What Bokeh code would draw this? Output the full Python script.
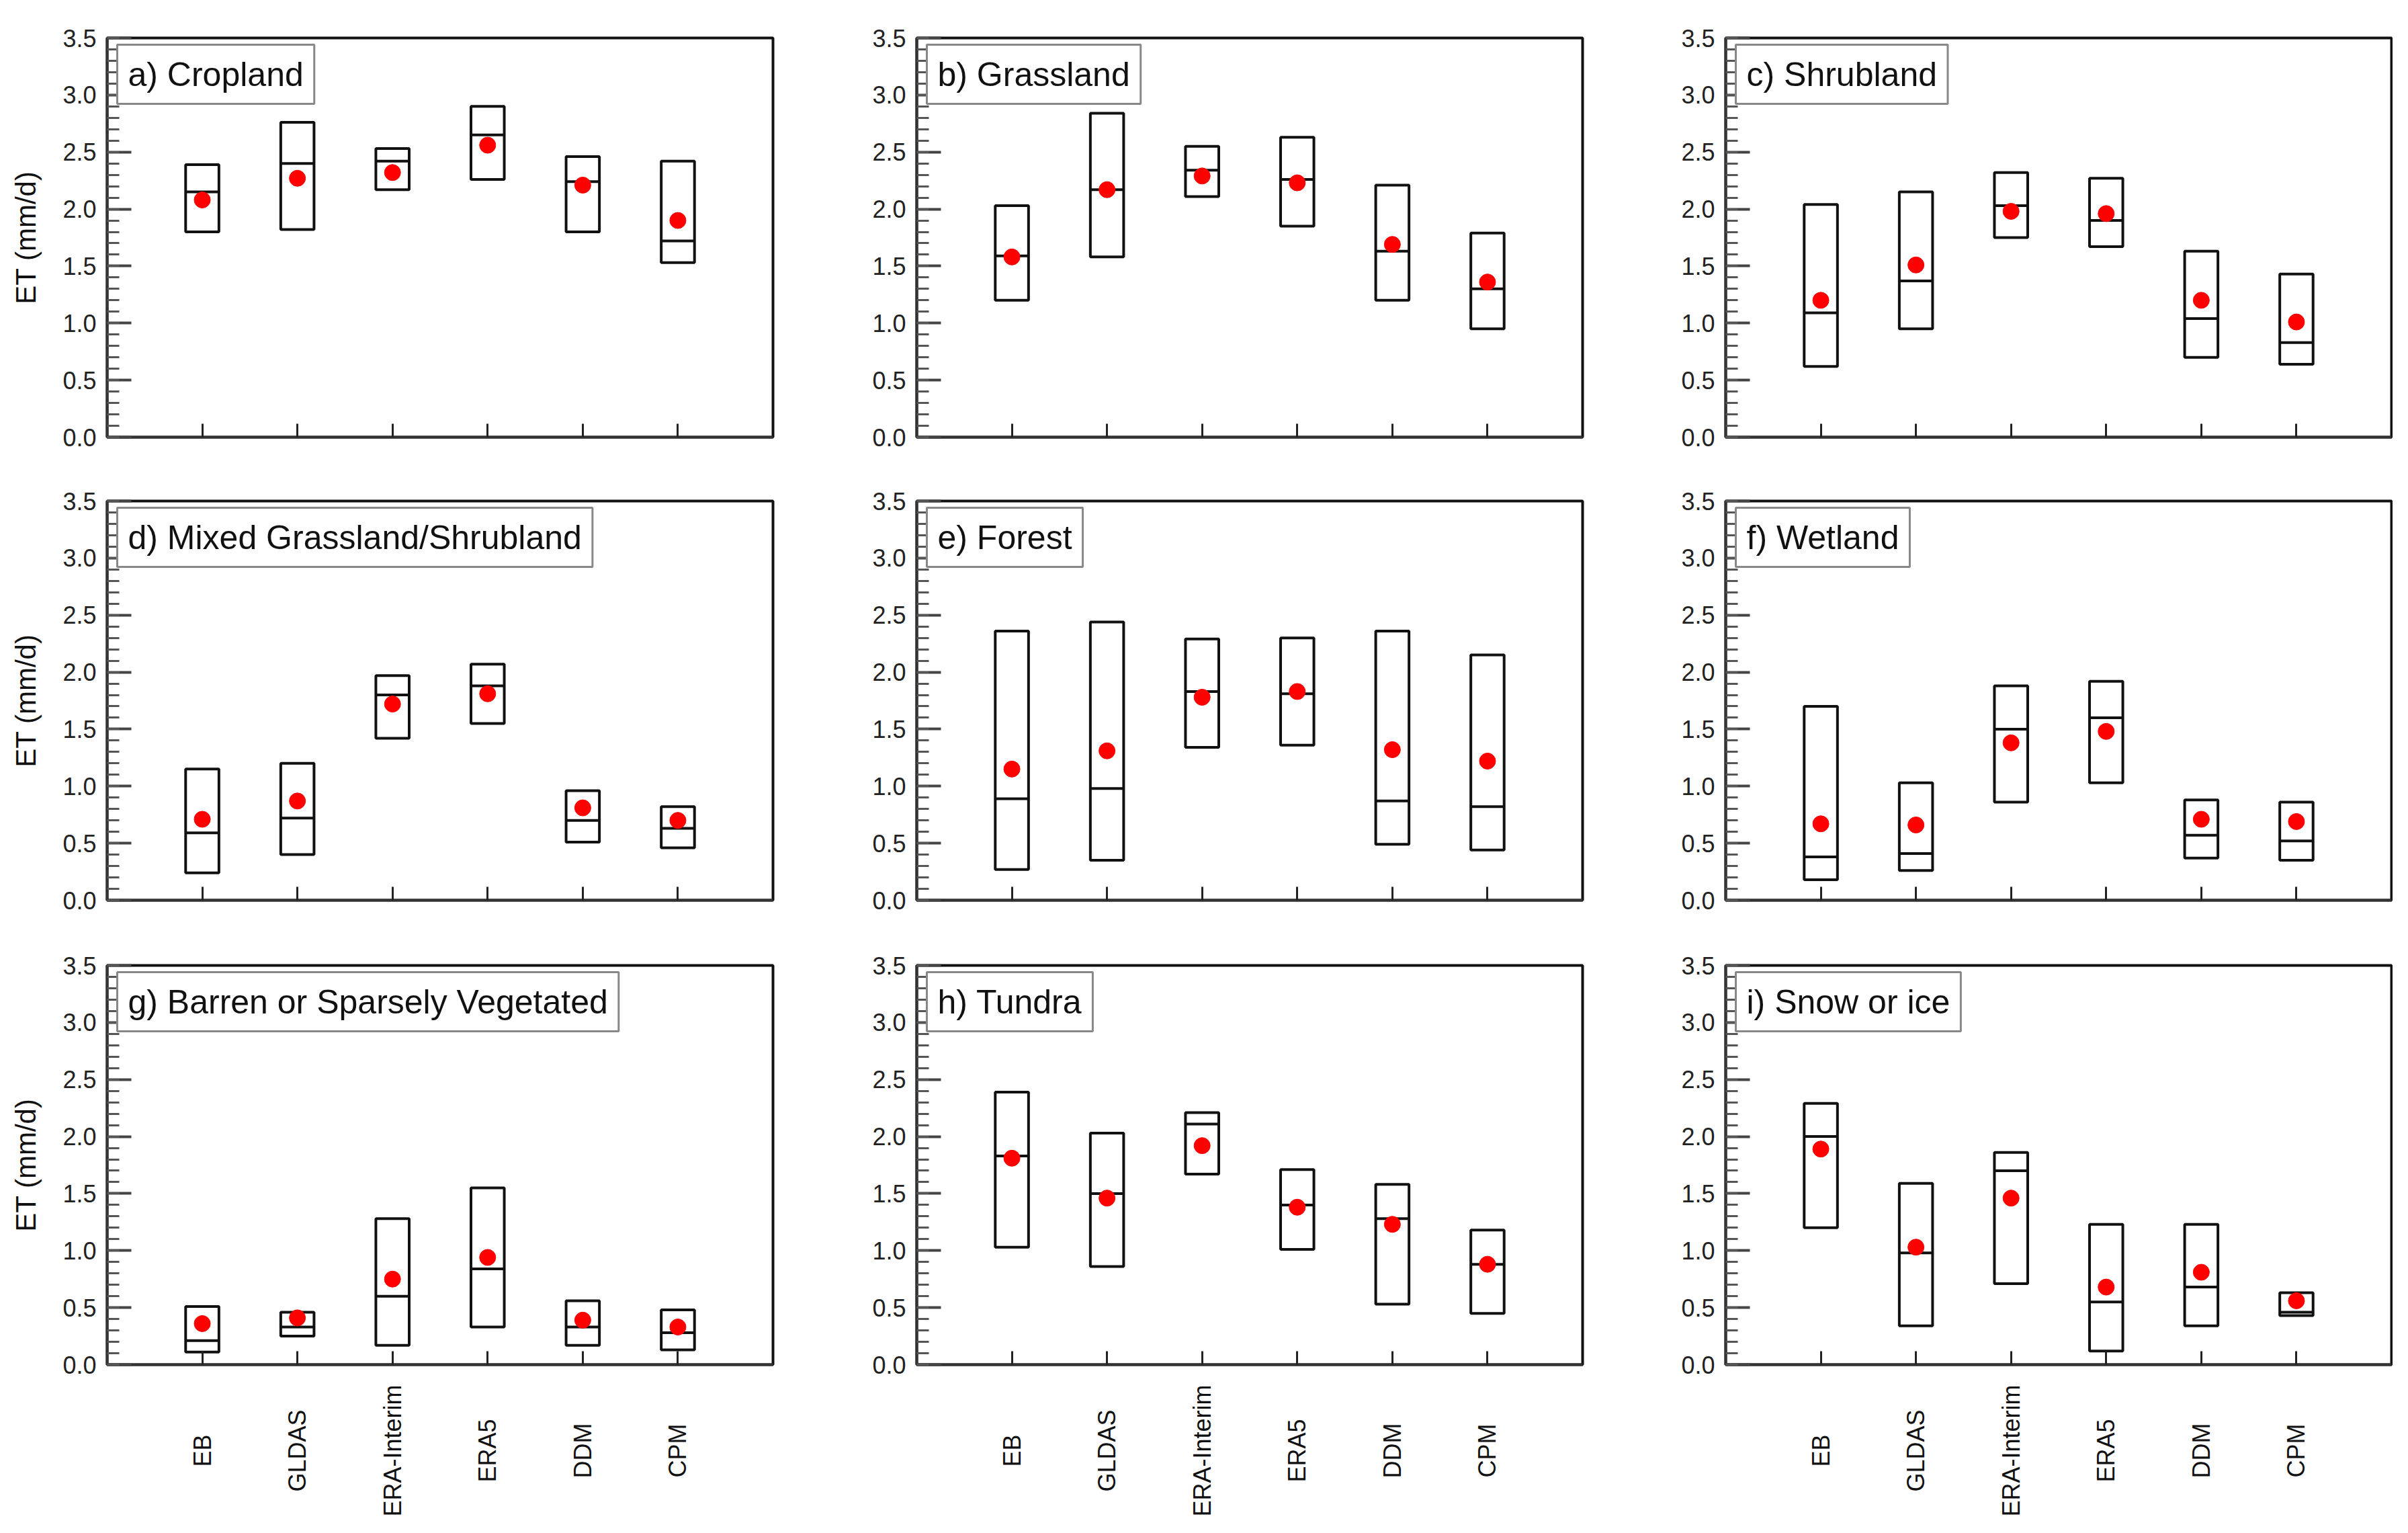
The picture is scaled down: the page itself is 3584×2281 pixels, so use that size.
import math
from bokeh.plotting import figure
from bokeh.models import (Range1d, FixedTicker, SingleIntervalTicker, NumeralTickFormatter,
                          Label, ColumnDataSource, CustomJSTickFormatter)
from bokeh.layouts import gridplot
from bokeh.core.properties import value
from bokeh.embed import file_html
from bokeh.resources import INLINE

categories = ["EB", "GLDAS", "ERA-Interim", "ERA5", "DDM", "CPM"]
y_ticks_interval = 0.5

cropland_hi = [2.39, 2.76, 2.53, 2.90, 2.46, 2.42]
cropland_lo = [1.80, 1.82, 2.17, 2.26, 1.80, 1.53]
cropland_med = [2.15, 2.40, 2.42, 2.65, 2.24, 1.72]
cropland_mean = [2.08, 2.27, 2.32, 2.56, 2.21, 1.90]

grassland_hi = [2.03, 2.84, 2.55, 2.63, 2.21, 1.79]
grassland_lo = [1.20, 1.58, 2.11, 1.85, 1.20, 0.95]
grassland_med = [1.59, 2.17, 2.34, 2.26, 1.63, 1.30]
grassland_mean = [1.58, 2.17, 2.29, 2.23, 1.69, 1.36]

shrubland_hi = [2.04, 2.15, 2.32, 2.27, 1.63, 1.43]
shrubland_lo = [0.62, 0.95, 1.75, 1.67, 0.70, 0.64]
shrubland_med = [1.09, 1.37, 2.03, 1.90, 1.04, 0.83]
shrubland_mean = [1.20, 1.51, 1.98, 1.96, 1.20, 1.01]

mixed_hi = [1.15, 1.20, 1.97, 2.07, 0.96, 0.82]
mixed_lo = [0.24, 0.40, 1.42, 1.55, 0.51, 0.46]
mixed_med = [0.59, 0.72, 1.80, 1.88, 0.70, 0.63]
mixed_mean = [0.71, 0.87, 1.72, 1.81, 0.81, 0.70]

forest_hi = [2.36, 2.44, 2.29, 2.30, 2.36, 2.15]
forest_lo = [0.27, 0.35, 1.34, 1.36, 0.49, 0.44]
forest_med = [0.89, 0.98, 1.83, 1.81, 0.87, 0.82]
forest_mean = [1.15, 1.31, 1.78, 1.83, 1.32, 1.22]

wetland_hi = [1.70, 1.03, 1.88, 1.92, 0.88, 0.86]
wetland_lo = [0.18, 0.26, 0.86, 1.03, 0.37, 0.35]
wetland_med = [0.38, 0.41, 1.50, 1.60, 0.57, 0.52]
wetland_mean = [0.67, 0.66, 1.38, 1.48, 0.71, 0.69]

barren_hi = [0.51, 0.46, 1.28, 1.55, 0.56, 0.48]
barren_lo = [0.11, 0.25, 0.17, 0.33, 0.17, 0.13]
barren_med = [0.21, 0.33, 0.60, 0.84, 0.33, 0.28]
barren_mean = [0.36, 0.41, 0.75, 0.94, 0.39, 0.33]

tundra_hi = [2.39, 2.03, 2.21, 1.71, 1.58, 1.18]
tundra_lo = [1.03, 0.86, 1.67, 1.01, 0.53, 0.45]
tundra_med = [1.83, 1.50, 2.11, 1.40, 1.28, 0.88]
tundra_mean = [1.81, 1.46, 1.92, 1.38, 1.23, 0.88]

snow_hi = [2.29, 1.59, 1.86, 1.23, 1.23, 0.63]
snow_lo = [1.20, 0.34, 0.71, 0.12, 0.34, 0.43]
snow_med = [2.00, 0.98, 1.70, 0.55, 0.68, 0.46]
snow_mean = [1.89, 1.03, 1.46, 0.68, 0.81, 0.56]

panels = [
    ("a) Cropland", cropland_hi, cropland_lo, cropland_med, cropland_mean),
    ("b) Grassland", grassland_hi, grassland_lo, grassland_med, grassland_mean),
    ("c) Shrubland", shrubland_hi, shrubland_lo, shrubland_med, shrubland_mean),
    ("d) Mixed Grassland/Shrubland", mixed_hi, mixed_lo, mixed_med, mixed_mean),
    ("e) Forest", forest_hi, forest_lo, forest_med, forest_mean),
    ("f) Wetland", wetland_hi, wetland_lo, wetland_med, wetland_mean),
    ("g) Barren or Sparsely Vegetated", barren_hi, barren_lo, barren_med, barren_mean),
    ("h) Tundra", tundra_hi, tundra_lo, tundra_med, tundra_mean),
    ("i) Snow or ice", snow_hi, snow_lo, snow_med, snow_mean),
]

FONT = "Liberation Sans"
FW, FH = 991, 594
BOX_W = 0.35
borders_lr = [(159, 114), (100, 113), (100, 2)]
borders_tb = [(56, 26), (69, 26), (71, 26)]
STRIP_H = 204
xs = list(range(1, len(categories) + 1))

figs = []
for idx, (title, hi, lo, med, mean) in enumerate(panels):
    r, c = divmod(idx, 3)
    L, R = borders_lr[c]
    T, B = borders_tb[r]
    p = figure(width=FW + L + R, height=FH + T + B, output_backend="svg",
               toolbar_location=None, x_range=Range1d(0, 7), y_range=Range1d(0, 3.5),
               min_border_left=L, min_border_right=R, min_border_top=T, min_border_bottom=B)
    p.grid.visible = False
    p.background_fill_color = "white"
    p.border_fill_color = "white"
    p.outline_line_color = "#111111"
    p.outline_line_width = 4

    src = ColumnDataSource(dict(x=xs, hi=hi, lo=lo, med=med, mean=mean,
                                x0=[v - BOX_W / 2 for v in xs], x1=[v + BOX_W / 2 for v in xs]))
    p.vbar(x="x", width=BOX_W, top="hi", bottom="lo", source=src,
           fill_color=None, line_color="#111111", line_width=4)
    p.segment(x0="x0", x1="x1", y0="med", y1="med", source=src,
              line_color="#111111", line_width=4)
    p.scatter(x="x", y="mean", source=src, size=24, marker="circle",
              fill_color="#ff0000", line_color="#ff0000")

    xa = p.xaxis[0]
    xa.ticker = FixedTicker(ticks=xs, minor_ticks=[])
    xa.formatter = CustomJSTickFormatter(code="return ''")
    xa.major_tick_in = 20
    xa.major_tick_out = 0
    xa.major_tick_line_width = 3
    xa.major_tick_line_color = "#222222"
    xa.major_label_standoff = 0
    xa.axis_line_width = 4
    xa.axis_line_color = "#333333"

    ya = p.yaxis[0]
    ya.ticker = SingleIntervalTicker(interval=y_ticks_interval, num_minor_ticks=5)
    ya.formatter = NumeralTickFormatter(format="0.0")
    ya.major_tick_in = 36
    ya.major_tick_out = 0
    ya.minor_tick_in = 18
    ya.minor_tick_out = 0
    ya.major_tick_line_width = 4
    ya.minor_tick_line_width = 3
    ya.major_tick_line_color = "#444444"
    ya.minor_tick_line_color = "#555555"
    ya.axis_line_width = 4
    ya.axis_line_color = "#333333"
    ya.major_label_text_font = FONT
    ya.major_label_text_font_size = "36px"
    ya.major_label_text_color = "#222222"
    ya.major_label_standoff = 16
    if c == 0:
        ya.axis_label = "ET (mm/d)"
        ya.axis_label_text_font = FONT
        ya.axis_label_text_font_size = "42px"
        ya.axis_label_text_font_style = "normal"
        ya.axis_label_text_color = "#111111"
        ya.axis_label_standoff = 28

    p.add_layout(Label(x=0, y=3.5, x_offset=15, y_offset=-10, text=title,
                       text_align="left", text_baseline="top",
                       text_font=FONT, text_font_size="50px", text_color="#111111",
                       padding=16, border_line_color="#888888", border_line_width=3,
                       background_fill_color="white"))
    figs.append(p)

strips = []
for c in range(3):
    L, R = borders_lr[c]
    s = figure(width=FW + L + R, height=STRIP_H, output_backend="svg",
               toolbar_location=None, x_range=Range1d(0, 7), y_range=Range1d(0, 1),
               min_border_left=L, min_border_right=R, min_border_top=0, min_border_bottom=0)
    s.axis.visible = False
    s.grid.visible = False
    s.outline_line_color = None
    s.background_fill_color = "white"
    s.border_fill_color = "white"
    s.text(x=xs, y=[0.5] * len(xs), text=categories, angle=math.pi / 2,
           text_align="center", text_baseline="middle",
           text_font=value(FONT), text_font_size="36px", text_color="#111111")
    strips.append(s)

grid = gridplot([figs[0:3], figs[3:6], figs[6:9], strips], toolbar_location=None)
open("out.html", "w").write(file_html(grid, INLINE))
